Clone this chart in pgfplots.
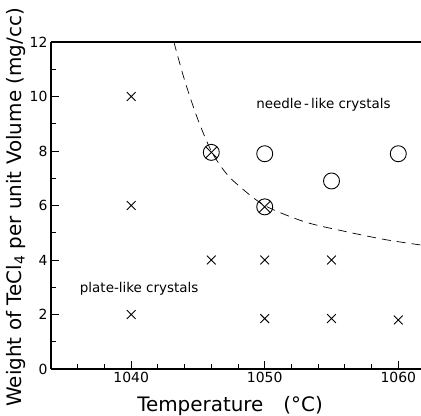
\documentclass[border=0pt]{standalone}
\usepackage{pgfplots}
\pgfplotsset{compat=1.18}
\usepackage{fontspec}
\setmainfont{DejaVu Sans}
\usetikzlibrary{plotmarks}

\begin{document}
\begin{tikzpicture}
\begin{axis}[
    scale only axis,
    width=370bp, height=327bp,
    xmin=1034, xmax=1061.7,
    ymin=0, ymax=12,
    axis x line=box, axis y line=left,
    axis line style={-, line width=1.2pt},
    xtick pos=bottom,
    xtick={1040,1050,1060},
    minor xtick={1036,1038,...,1060},
    ytick={0,2,...,12},
    minor ytick={1,3,...,11},
    tick align=inside,
    major tick length=8bp, minor tick length=5bp,
    tick style={black, line width=0.8pt},
    /pgf/number format/1000 sep={},
    /pgf/number format/assume math mode=true,
    tick label style={font=\fontsize{14}{14}\selectfont},
    xlabel={Temperature\hspace{20bp}(°C)},
    ylabel={Weight of TeCl\textsubscript{4} per unit Volume (mg/cc)},
    label style={font=\fontsize{20}{20}\selectfont},
    xlabel style={at={(axis description cs:0.484,0)}, anchor=base, yshift=-42bp},
    ylabel style={at={(axis description cs:-0.0946,0.494)}, anchor=center},
    clip=false,
]
% plate-like (x)
\addplot[only marks, mark=x, mark size=6.2bp, line width=0.9pt] coordinates {
  (1040,10) (1040,6) (1040,2)
  (1046,4) (1050,4) (1055,4)
  (1050,1.85) (1055,1.85) (1060,1.8)
};
% needle-like (circles)
\addplot[only marks, mark=o, mark size=8bp, line width=0.9pt] coordinates {
  (1050,7.9) (1055,6.9) (1060,7.9)
};
% mixed (crossed circles)
\addplot[only marks, mark=otimes, mark size=8bp, line width=0.9pt] coordinates {
  (1046,7.95) (1050,5.95)
};
% boundary
\addplot[dashed, dash pattern=on 9bp off 6bp, line width=0.7pt, smooth] coordinates {
  (1043.2,12) (1044,10.6) (1045,9.15) (1046,8.0) (1047,7.25) (1048,6.75)
  (1050,6.0) (1053,5.4) (1056,5.05) (1059,4.75) (1061.7,4.55)
};
\node[font=\fontsize{13.5}{13.5}\selectfont] at (axis cs:1054.4,9.7) {needle\,-\,like crystals};
\node[font=\fontsize{13.5}{13.5}\selectfont] at (axis cs:1040.6,2.95) {plate-like crystals};
\end{axis}
\pgfresetboundingbox
\useasboundingbox (-51bp,-47bp) rectangle (370bp,369bp);
\end{tikzpicture}
\end{document}
